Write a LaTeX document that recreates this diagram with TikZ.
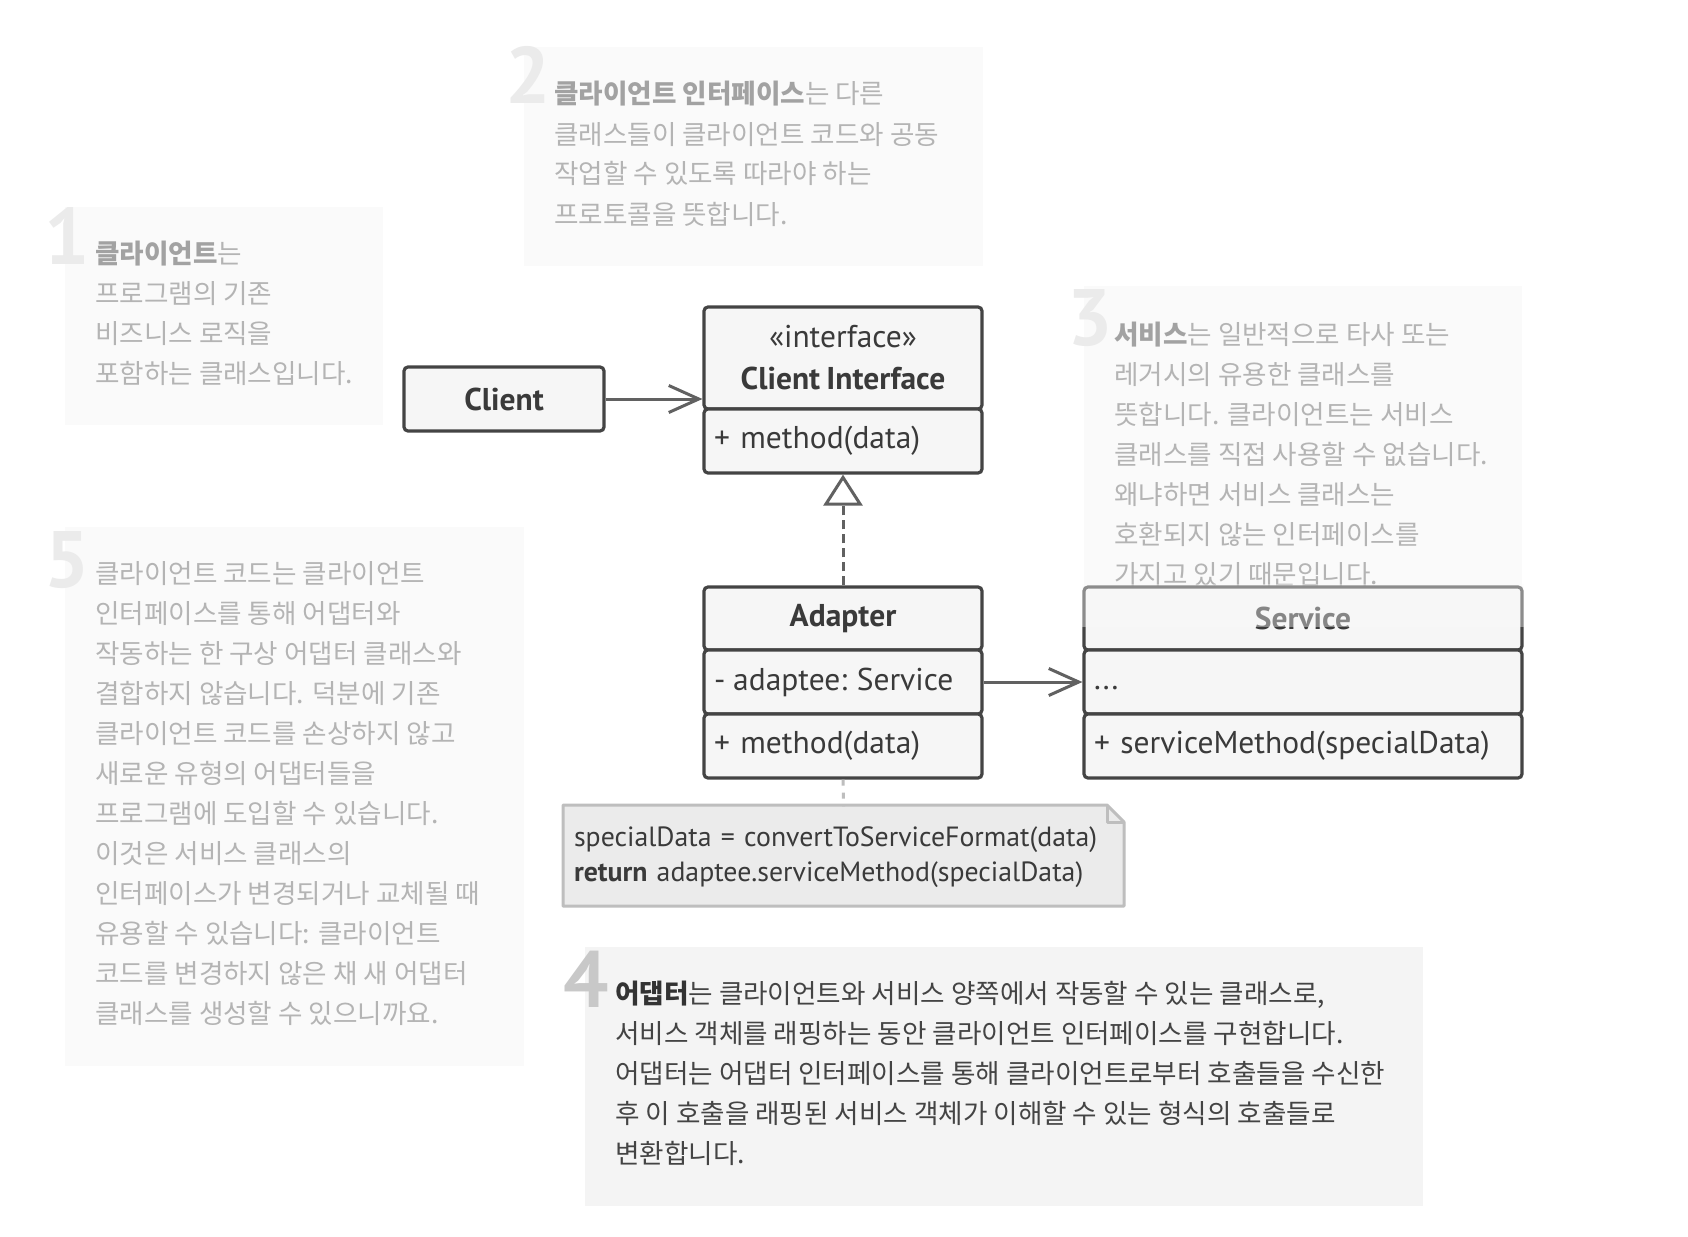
\documentclass[tikz,border=0pt]{standalone}
\usepackage{fontspec}
\setmainfont{PT Sans}
\newfontfamily\kr{Noto Sans CJK KR}
\usetikzlibrary{arrows.meta}
\definecolor{notebg}{HTML}{FAFAFA}
\definecolor{notefourbg}{HTML}{F4F4F4}
\definecolor{notetxt}{HTML}{B4B4B4}
\definecolor{notebold}{HTML}{A2A2A2}
\definecolor{notefourtxt}{HTML}{444444}
\definecolor{notefourbold}{HTML}{333333}
\definecolor{digitc}{HTML}{EBEBEB}
\definecolor{digitfour}{HTML}{C8C8C8}
\definecolor{umlline}{HTML}{444444}
\definecolor{umlfill}{HTML}{F6F6F6}
\definecolor{umltext}{HTML}{3A3A3A}
\definecolor{conn}{HTML}{616161}
\definecolor{codeline}{HTML}{BEBEBE}
\definecolor{codefill}{HTML}{EBEBEB}
\newcommand\krlines[1]{\vtop{\lineskiplimit=-100pt\relax #1}}
\newcommand\umlfnt{\fontsize{31.5}{42}\selectfont\spaceskip=0.2em\relax}
\newcommand\codefnt{\fontsize{27.8}{35}\selectfont\spaceskip=0.2em\relax}
\begin{document}
\begin{tikzpicture}[x=1pt,y=-1pt,
  every node/.style={inner sep=0pt},
  notebox/.style={fill=notebg, draw=none},
  digit/.style={anchor=base west, font=\fontsize{80}{80}\selectfont\bfseries, text=digitc},
  notetext/.style={anchor=base west, font=\kr\fontsize{26.6}{40}\selectfont, text=notetxt},
  umlpart/.style={draw=umlline, line width=3.2pt, fill=umlfill, rounded corners=4pt, text=umltext, font=\umlfnt, align=center},
  umlleft/.style={umlpart, inner xsep=10pt, align=left},
  assoc/.style={draw=conn, line width=3pt, -{Straight Barb[length=30pt,width=27pt]}},
  realize/.style={draw=conn, line width=3pt, dash pattern=on 9pt off 5pt, -{Triangle[open,length=31pt,width=39pt,fill=white]}},
  dotconn/.style={draw=codeline, line width=3pt, dash pattern=on 6pt off 7pt},
  codetext/.style={font=\codefnt, text=umltext, align=left, inner xsep=11pt}
]
\useasboundingbox (0,0) rectangle (1688,1236);
\fill[white] (0,0) rectangle (1688,1236);

% note backgrounds
\node[notebox, minimum width=318pt, minimum height=218pt] (n1) at (224,316) {};
\node[notebox, minimum width=459pt, minimum height=219pt] (n2) at (753.5,156.5) {};
\node[notebox, minimum width=438pt, minimum height=341pt] (n3) at (1303,456.5) {};
\node[notebox, minimum width=459pt, minimum height=539pt] (n5) at (294.5,796.5) {};
\node[fill=notefourbg, minimum width=838pt, minimum height=259pt] (n4) at (1004,1076.5) {};

% digits
\node[digit] (d1) at (44,264) {1};
\node[digit] (d2) at (505,104) {2};
\node[digit] (d3) at (1067,345) {3};
\node[digit] (d5) at (44,587) {5};
\node[digit, text=digitfour] (d4) at (563,1007) {4};

% note texts
\node[notetext] (t1) at (95,263) {\krlines{%
\hbox{\textcolor{notebold}{\bfseries 클라이언트}는}
\hbox{프로그램의 기존}
\hbox{비즈니스 로직을}
\hbox{포함하는 클래스입니다.}}};

\node[notetext] (t2) at (554,104) {\krlines{%
\hbox{\textcolor{notebold}{\bfseries 클라이언트 인터페이스}는 다른}
\hbox{클래스들이 클라이언트 코드와 공동}
\hbox{작업할 수 있도록 따라야 하는}
\hbox{프로토콜을 뜻합니다.}}};

\node[notetext] (t3) at (1114,344) {\krlines{%
\hbox{\textcolor{notebold}{\bfseries 서비스}는 일반적으로 타사 또는}
\hbox{레거시의 유용한 클래스를}
\hbox{뜻합니다. 클라이언트는 서비스}
\hbox{클래스를 직접 사용할 수 없습니다.}
\hbox{왜냐하면 서비스 클래스는}
\hbox{호환되지 않는 인터페이스를}
\hbox{가지고 있기 때문입니다.}}};

\node[notetext] (t5) at (95,583) {\krlines{%
\hbox{클라이언트 코드는 클라이언트}
\hbox{인터페이스를 통해 어댑터와}
\hbox{작동하는 한 구상 어댑터 클래스와}
\hbox{결합하지 않습니다. 덕분에 기존}
\hbox{클라이언트 코드를 손상하지 않고}
\hbox{새로운 유형의 어댑터들을}
\hbox{프로그램에 도입할 수 있습니다.}
\hbox{이것은 서비스 클래스의}
\hbox{인터페이스가 변경되거나 교체될 때}
\hbox{유용할 수 있습니다: 클라이언트}
\hbox{코드를 변경하지 않은 채 새 어댑터}
\hbox{클래스를 생성할 수 있으니까요.}}};

\node[notetext, text=notefourtxt] (t4) at (615,1003) {\krlines{%
\hbox{\textcolor{notefourbold}{\bfseries 어댑터}는 클라이언트와 서비스 양쪽에서 작동할 수 있는 클래스로,}
\hbox{서비스 객체를 래핑하는 동안 클라이언트 인터페이스를 구현합니다.}
\hbox{어댑터는 어댑터 인터페이스를 통해 클라이언트로부터 호출들을 수신한}
\hbox{후 이 호출을 래핑된 서비스 객체가 이해할 수 있는 형식의 호출들로}
\hbox{변환합니다.}}};

% UML classes
\node[umlpart, minimum width=200pt, minimum height=64pt] (client) at (504,399) {\bfseries Client};

\node[umlpart, minimum width=278pt, minimum height=102pt] (cihead) at (843,358) {«interface»\\\bfseries Client Interface};
\node[umlleft, minimum height=64pt, text width=258pt] (cimeth) at (843,441) {+ method(data)};

\node[umlpart, minimum width=278pt, minimum height=63pt] (adhead) at (843,618.5) {\bfseries Adapter};
\node[umlleft, minimum height=64pt, text width=258pt] (adattr) at (843,682) {-\hspace{0.25em}adaptee:\hspace{0.3em}Service};
\node[umlleft, minimum height=64pt, text width=258pt] (admeth) at (843,746) {+ method(data)};

\node[umlpart, minimum width=438pt, minimum height=63pt] (svhead) at (1303,618.5) {\bfseries Service};
\node[umlleft, minimum height=64pt, text width=418pt] (svattr) at (1303,682) {...\vphantom{(}};
\node[umlleft, minimum height=64pt, text width=418pt] (svmeth) at (1303,746) {+ serviceMethod(specialData)};

% translucent part of note 3 over the Service header
\fill[notebg, opacity=0.4] (1082,584) rectangle (1524,627);

% code note
\filldraw[fill=codefill, draw=codeline, line width=3pt, line join=round]
  (563,805) -- (1107,805) -- (1124,822) -- (1124,906) -- (563,906) -- cycle;
\draw[codeline, line width=3pt, line join=round] (1107,805) -- (1107,822) -- (1124,822);
\node[codetext, minimum width=561pt, minimum height=101pt, text width=539pt] (codenote) at (843.5,857) {specialData = convertToServiceFormat(data)\\\textbf{return} adaptee.serviceMethod(specialData)};

% connectors
\draw[assoc] (client.east) -- (client.east -| cihead.west);
\draw[realize] (adhead.north) -- (cimeth.south);
\draw[assoc] (adattr.east) -- (adattr.east -| svattr.west);
\draw[dotconn] (admeth.south) -- (codenote.north);
\end{tikzpicture}
\end{document}
